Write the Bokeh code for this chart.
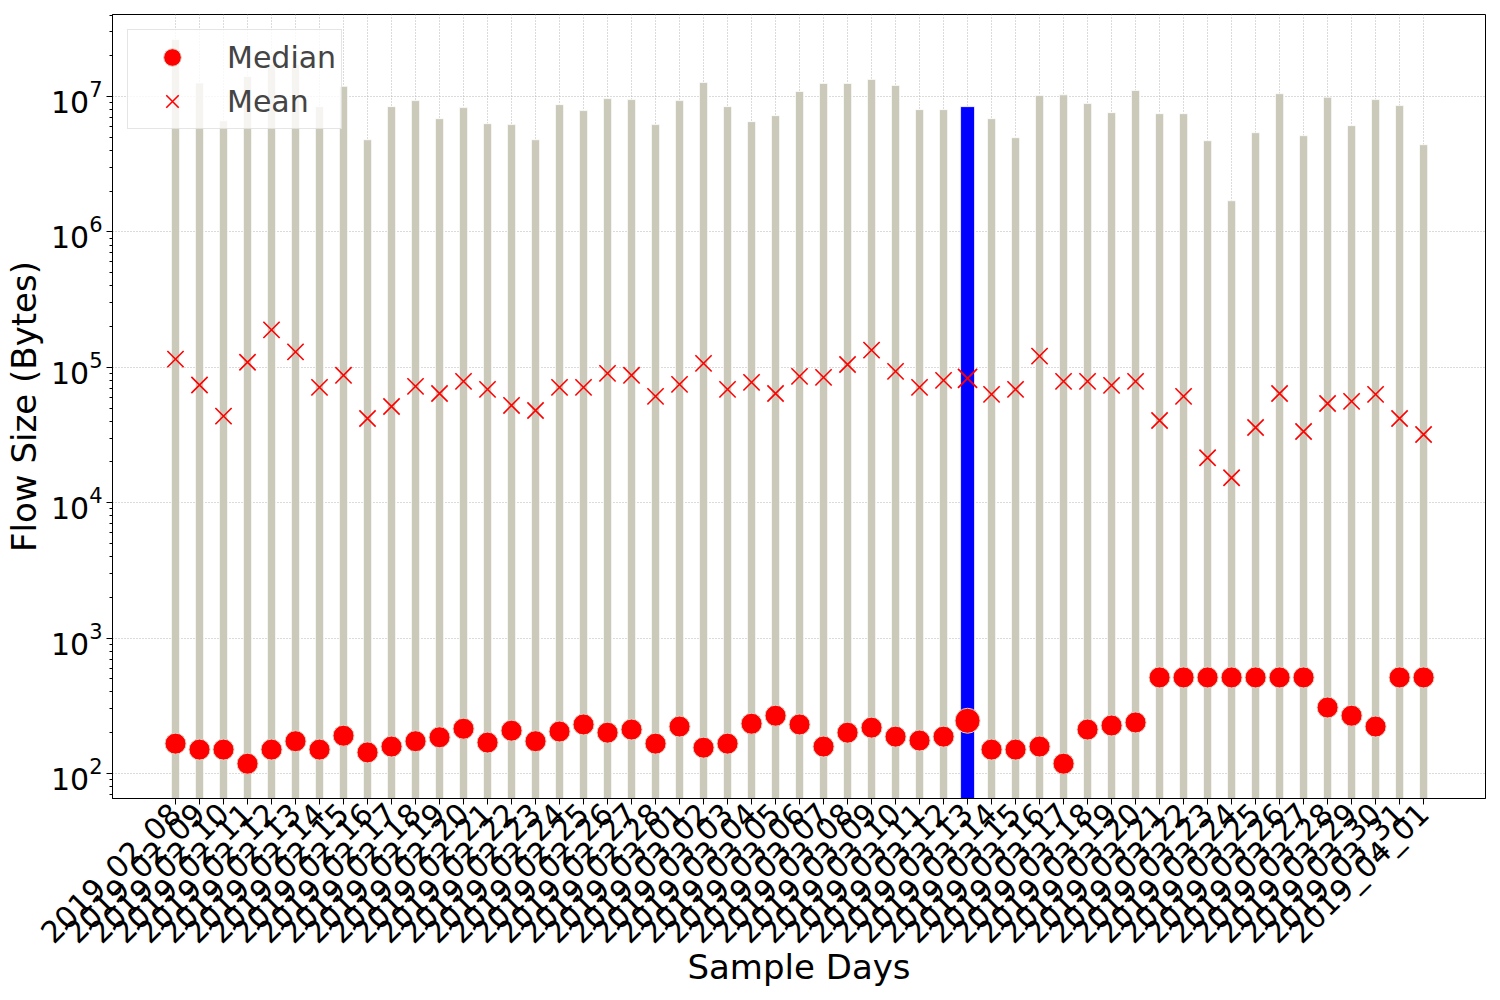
import math
from bokeh.plotting import figure
from bokeh.models import (Range1d, FixedTicker, ColumnDataSource, Legend, LegendItem)
from bokeh.embed import file_html
from bokeh.resources import INLINE

days = [
    "2019_02_08", "2019_02_09", "2019_02_10", "2019_02_11", "2019_02_12", "2019_02_13",
    "2019_02_14", "2019_02_15", "2019_02_16", "2019_02_17", "2019_02_18", "2019_02_19",
    "2019_02_20", "2019_02_21", "2019_02_22", "2019_02_23", "2019_02_24", "2019_02_25",
    "2019_02_26", "2019_02_27", "2019_02_28", "2019_03_01", "2019_03_02", "2019_03_03",
    "2019_03_04", "2019_03_05", "2019_03_06", "2019_03_07", "2019_03_08", "2019_03_09",
    "2019_03_10", "2019_03_11", "2019_03_12", "2019_03_13", "2019_03_14", "2019_03_15",
    "2019_03_16", "2019_03_17", "2019_03_18", "2019_03_19", "2019_03_20", "2019_03_21",
    "2019_03_22", "2019_03_23", "2019_03_24", "2019_03_25", "2019_03_26", "2019_03_27",
    "2019_03_28", "2019_03_29", "2019_03_30", "2019_03_31", "2019_04_01",
]

max_bytes = [
    2.64e7, 1.26e7, 6.64e6, 1.41e7, 1.73e7, 1.73e7, 8.43e6, 1.19e7, 4.80e6, 8.43e6,
    9.34e6, 6.87e6, 8.29e6, 6.31e6, 6.21e6, 4.80e6, 8.72e6, 7.88e6, 9.66e6, 9.50e6,
    6.21e6, 9.34e6, 1.27e7, 8.43e6, 6.53e6, 7.23e6, 1.09e7, 1.25e7, 1.25e7, 1.34e7,
    1.21e7, 8.01e6, 8.01e6, 8.43e6, 6.87e6, 4.97e6, 1.02e7, 1.03e7, 8.88e6, 7.61e6,
    1.11e7, 7.48e6, 7.48e6, 4.72e6, 1.70e6, 5.41e6, 1.05e7, 5.14e6, 9.88e6, 6.10e6,
    9.50e6, 8.58e6, 4.41e6,
]

mean_bytes = [
    1.15e5, 7.40e4, 4.36e4, 1.09e5, 1.89e5, 1.30e5, 7.11e4, 8.73e4, 4.19e4, 5.14e4,
    7.23e4, 6.41e4, 7.87e4, 6.87e4, 5.23e4, 4.80e4, 7.11e4, 7.11e4, 9.03e4, 8.73e4,
    6.10e4, 7.48e4, 1.07e5, 6.87e4, 7.74e4, 6.41e4, 8.58e4, 8.43e4, 1.05e5, 1.34e5,
    9.34e4, 7.11e4, 8.01e4, 8.29e4, 6.31e4, 6.87e4, 1.21e5, 7.87e4, 7.87e4, 7.36e4,
    7.87e4, 4.05e4, 6.10e4, 2.15e4, 1.53e4, 3.59e4, 6.41e4, 3.36e4, 5.41e4, 5.60e4,
    6.31e4, 4.19e4, 3.19e4,
]

median_bytes = [
    166, 150, 150, 118, 150, 173, 150, 190, 143, 158,
    173, 185, 214, 169, 207, 173, 204, 230, 200, 211,
    166, 222, 155, 166, 233, 267, 230, 158, 200, 218,
    187, 175, 187, 245, 150, 150, 158, 118, 211, 226,
    238, 512, 512, 512, 512, 512, 512, 512, 307, 267,
    222, 512, 512,
]

highlight_day = "2019_03_13"

FONT = "DejaVu Sans"

idx = list(range(len(days)))
hl = days.index(highlight_day)
normal = [i for i in idx if i != hl]

src_n = ColumnDataSource(dict(
    x=normal,
    top=[max_bytes[i] for i in normal],
    med=[median_bytes[i] for i in normal],
    mean=[mean_bytes[i] for i in normal],
))
src_h = ColumnDataSource(dict(
    x=[hl], top=[max_bytes[hl]], med=[median_bytes[hl]], mean=[mean_bytes[hl]],
))

p = figure(
    width=1492, height=990,
    x_range=Range1d(-2.625, 54.58), y_range=Range1d(65.3, 4.04e7),
    y_axis_type="log",
    output_backend="svg", toolbar_location=None,
    min_border_left=112, min_border_right=7, min_border_top=14, min_border_bottom=192,
)
p.background_fill_color = "white"
p.border_fill_color = "white"
p.outline_line_color = "black"
p.outline_line_width = 1
p.outline_line_alpha = 1

# bars
p.vbar(x="x", top="top", bottom=1, width=0.34, source=src_n,
       fill_color="#CBC9BA", line_color="white", line_width=1, line_alpha=0.7)
p.vbar(x="x", top="top", bottom=1, width=0.58, source=src_h,
       fill_color="#0000FF", line_color="white", line_width=1, line_alpha=0.7)

# medians
r_med = p.scatter(x="x", y="med", source=src_n, marker="circle", size=21,
                  fill_color="red", line_color="#d9d4c4", line_width=1)
p.scatter(x="x", y="med", source=src_h, marker="circle", size=25,
          fill_color="red", line_color="#d9d4c4", line_width=1)

# means
r_mean = p.scatter(x="x", y="mean", source=src_n, marker="x", size=23,
                   line_color="red", line_width=1.6)
p.scatter(x="x", y="mean", source=src_h, marker="x", size=27,
          line_color="red", line_width=1.8)

# axes
p.xaxis.ticker = FixedTicker(ticks=idx, minor_ticks=[])
p.xaxis.major_label_overrides = {i: d for i, d in enumerate(days)}
p.xaxis.major_label_orientation = math.pi / 4
p.xgrid.ticker = FixedTicker(ticks=idx, minor_ticks=[])

for ax in (p.xaxis, p.yaxis):
    ax.axis_line_color = "black"
    ax.major_tick_line_color = "black"
    ax.minor_tick_line_color = "black"
    ax.major_tick_out = 6
    ax.major_tick_in = 0
    ax.minor_tick_out = 3
    ax.minor_tick_in = 0
    ax.major_label_text_font = FONT
    ax.major_label_text_font_size = "30px"
    ax.major_label_text_color = "black"
    ax.axis_label_text_font = FONT
    ax.axis_label_text_font_size = "34px"
    ax.axis_label_text_font_style = "normal"
    ax.axis_label_text_color = "black"
    ax.major_label_standoff = 4

p.xaxis.axis_label_standoff = -18
p.yaxis.axis_label_standoff = 4

p.xaxis.axis_label = "Sample Days"
p.yaxis.axis_label = "Flow Size (Bytes)"

for g in (p.xgrid, p.ygrid):
    g.grid_line_color = "#b0b0b0"
    g.grid_line_dash = "1 2"
    g.grid_line_alpha = 0.9
    g.grid_line_width = 1

legend = Legend(
    items=[LegendItem(label="Median", renderers=[r_med]),
           LegendItem(label="Mean", renderers=[r_mean])],
    location="top_left", margin=15, padding=5, spacing=0,
    glyph_width=78, glyph_height=44, label_height=44, label_standoff=16,
    label_text_font=FONT, label_text_font_size="30px",
    background_fill_color="white", background_fill_alpha=0.8,
    border_line_color="#cccccc", border_line_width=1,
)
p.add_layout(legend)

open("out.html", "w").write(file_html(p, INLINE))
